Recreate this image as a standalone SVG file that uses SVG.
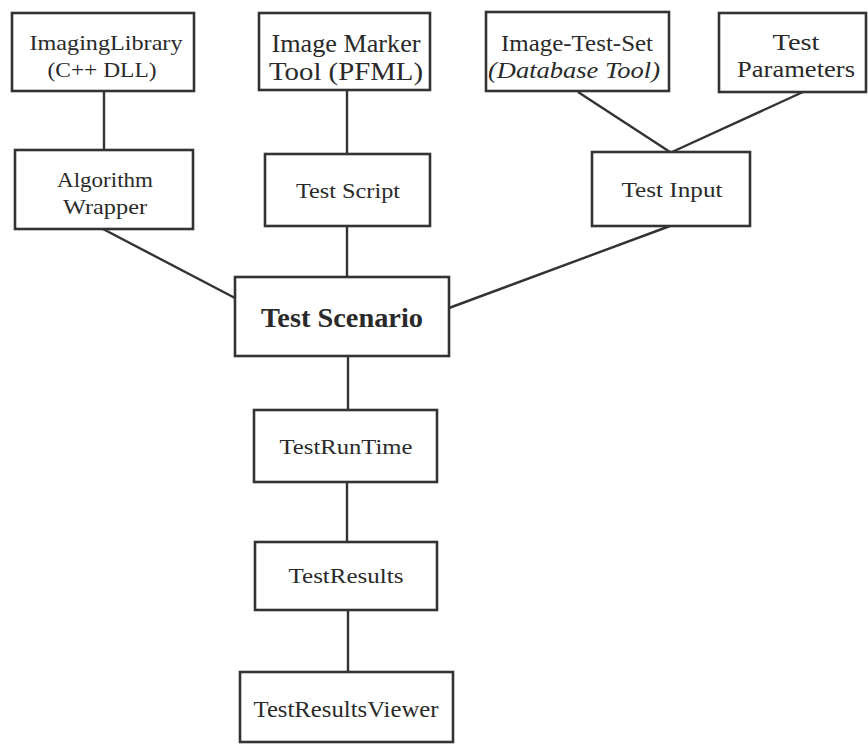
<svg xmlns="http://www.w3.org/2000/svg" width="868" height="744" viewBox="0 0 868 744">
  <style>
    .box { fill: #ffffff; stroke: #333333; stroke-width: 2.6; }
    .wire { stroke: #333333; stroke-width: 2.4; fill: none; }
    text { font-family: "Liberation Serif", "Times New Roman", serif; fill: #2a2a2a; text-anchor: middle; }
    .it { font-style: italic; }
    .bold { font-weight: bold; }
  </style>
  <rect width="868" height="744" fill="#ffffff"/>

  <!-- connectors -->
  <g id="connectors">
    <line class="wire" x1="104" y1="91" x2="104" y2="150"/>
    <line class="wire" x1="347" y1="90" x2="347" y2="154"/>
    <line class="wire" x1="578" y1="92" x2="670" y2="152"/>
    <line class="wire" x1="803" y1="92" x2="672" y2="152"/>
    <line class="wire" x1="103" y1="229" x2="235" y2="298"/>
    <line class="wire" x1="347" y1="226" x2="347" y2="277"/>
    <line class="wire" x1="670" y1="226" x2="449" y2="308"/>
    <line class="wire" x1="348" y1="356" x2="348" y2="410"/>
    <line class="wire" x1="347" y1="482" x2="347" y2="542"/>
    <line class="wire" x1="348" y1="610" x2="348" y2="672"/>
  </g>

  <g id="imaging-library">
    <rect class="box" x="12" y="13" width="182" height="78"/>
    <text x="106" y="50" font-size="22" textLength="153" lengthAdjust="spacingAndGlyphs">ImagingLibrary</text>
    <text x="102" y="77" font-size="22" textLength="109" lengthAdjust="spacingAndGlyphs">(C++ DLL)</text>
  </g>

  <g id="image-marker-tool">
    <rect class="box" x="259" y="13" width="171" height="77"/>
    <text x="346" y="52" font-size="25" textLength="149" lengthAdjust="spacingAndGlyphs">Image Marker</text>
    <text x="346" y="80" font-size="25" textLength="154" lengthAdjust="spacingAndGlyphs">Tool (PFML)</text>
  </g>

  <g id="image-test-set">
    <rect class="box" x="486" y="12" width="183" height="79"/>
    <text x="577" y="51" font-size="23" textLength="152" lengthAdjust="spacingAndGlyphs">Image-Test-Set</text>
    <text class="it" x="574" y="78" font-size="23" textLength="172" lengthAdjust="spacingAndGlyphs">(Database Tool)</text>
  </g>

  <g id="test-parameters">
    <rect class="box" x="719" y="13" width="147" height="79"/>
    <text x="796" y="50" font-size="24" textLength="47" lengthAdjust="spacingAndGlyphs">Test</text>
    <text x="796" y="77" font-size="24" textLength="118" lengthAdjust="spacingAndGlyphs">Parameters</text>
  </g>

  <g id="algorithm-wrapper">
    <rect class="box" x="15" y="150" width="178" height="79"/>
    <text x="105" y="187" font-size="21" textLength="96" lengthAdjust="spacingAndGlyphs">Algorithm</text>
    <text x="105" y="214" font-size="21" textLength="84" lengthAdjust="spacingAndGlyphs">Wrapper</text>
  </g>

  <g id="test-script">
    <rect class="box" x="265" y="154" width="165" height="72"/>
    <text x="348" y="198" font-size="22" textLength="104" lengthAdjust="spacingAndGlyphs">Test Script</text>
  </g>

  <g id="test-input">
    <rect class="box" x="592" y="152" width="158" height="74"/>
    <text x="672" y="197" font-size="22" textLength="101" lengthAdjust="spacingAndGlyphs">Test Input</text>
  </g>

  <g id="test-scenario">
    <rect class="box" x="235" y="277" width="214" height="79"/>
    <text class="bold" x="342" y="327" font-size="27" textLength="162" lengthAdjust="spacingAndGlyphs">Test Scenario</text>
  </g>

  <g id="test-run-time">
    <rect class="box" x="254" y="410" width="183" height="72"/>
    <text x="346" y="454" font-size="22" textLength="133" lengthAdjust="spacingAndGlyphs">TestRunTime</text>
  </g>

  <g id="test-results">
    <rect class="box" x="255" y="542" width="182" height="68"/>
    <text x="346" y="583" font-size="22" textLength="115" lengthAdjust="spacingAndGlyphs">TestResults</text>
  </g>

  <g id="test-results-viewer">
    <rect class="box" x="240" y="672" width="213" height="70"/>
    <text x="346" y="717" font-size="24" textLength="185" lengthAdjust="spacingAndGlyphs">TestResultsViewer</text>
  </g>
</svg>
